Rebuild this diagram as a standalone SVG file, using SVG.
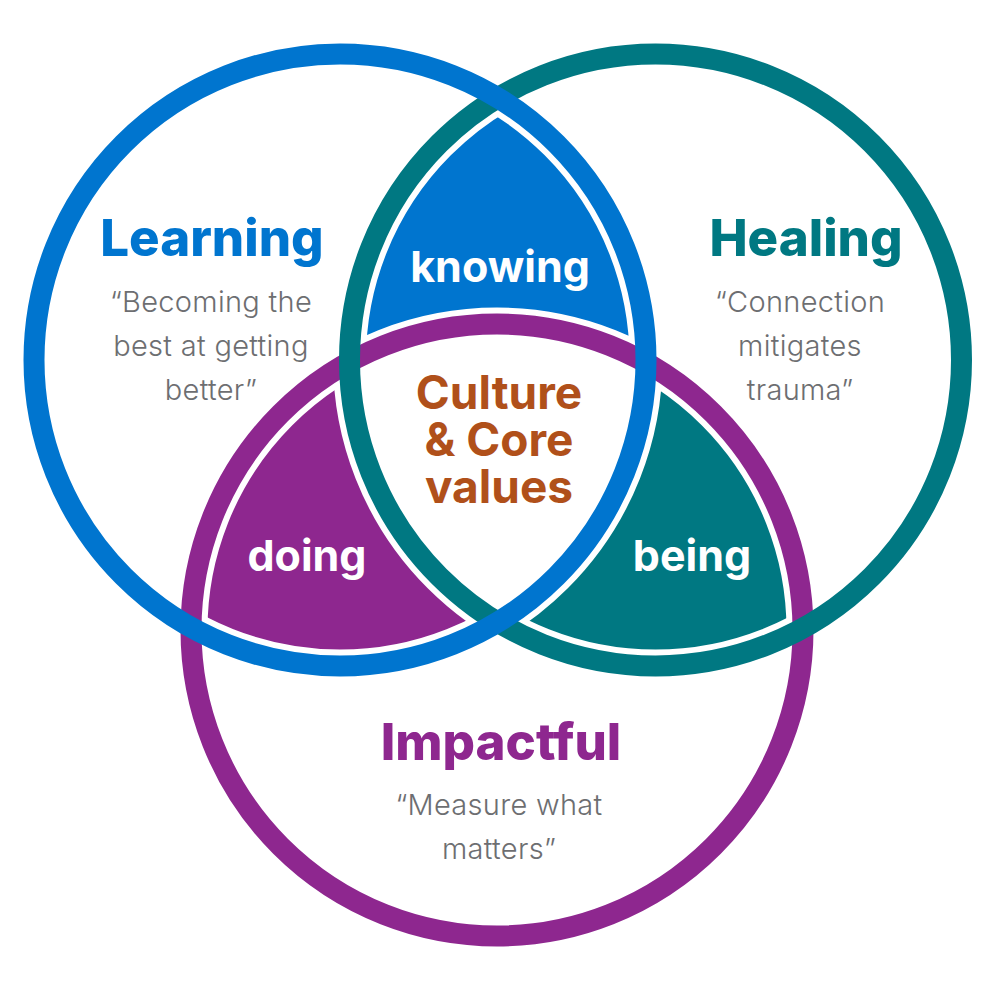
<svg xmlns="http://www.w3.org/2000/svg" width="1000" height="1000" viewBox="0 0 1000 1000">
<style>
.ring{fill:none;stroke-width:21}
.halo{fill:none;stroke:#fff;stroke-width:33}
.title{font-family:Inter,"Noto Sans",sans-serif;font-weight:800;font-size:51px;text-anchor:middle}
.quote{font-family:Inter,"Noto Sans",sans-serif;font-weight:300;font-size:29px;fill:#6d6e71;text-anchor:middle;letter-spacing:0.3px}
.lab{font-family:Inter,"Noto Sans",sans-serif;font-weight:700;font-size:43px;text-anchor:middle}
.core{font-family:Inter,"Noto Sans",sans-serif;font-weight:700;font-size:46px;text-anchor:middle;fill:#b0501a}
</style>
<defs>
<clipPath id="cB"><circle cx="340" cy="360" r="306"/></clipPath>
<clipPath id="cT"><circle cx="655.5" cy="360" r="306"/></clipPath>
<clipPath id="cP"><circle cx="497" cy="630" r="306"/></clipPath>
</defs>
<rect width="1000" height="1000" fill="#fff"/>
<g id="regions">
<g id="knowing-fill" clip-path="url(#cB)"><circle cx="655.5" cy="360" r="306" fill="#0075cf"/></g>
<g id="doing-fill" clip-path="url(#cB)"><circle cx="497" cy="630" r="306" fill="#8e278f"/></g>
<g id="being-fill" clip-path="url(#cT)"><circle cx="497" cy="630" r="306" fill="#007882"/></g>
<g id="core-fill" clip-path="url(#cB)"><g clip-path="url(#cT)"><circle cx="497" cy="630" r="306" fill="#fff"/></g></g>
</g>
<g id="connectors">
<circle class="halo" cx="497" cy="630" r="306"/>
<circle class="halo" cx="655.5" cy="360" r="306"/>
<circle class="halo" cx="340" cy="360" r="306"/>
</g>
<g id="impactful">
<circle class="ring" cx="497" cy="630" r="306" stroke="#8e278f"/>
<text class="title" x="501" y="760" fill="#8e278f">Impactful</text>
<text class="quote" x="499" y="815">“Measure what</text>
<text class="quote" x="499" y="859">matters”</text>
</g>
<g id="healing">
<circle class="ring" cx="655.5" cy="360" r="306" stroke="#007882"/>
<text class="title" x="806" y="256" fill="#007882">Healing</text>
<text class="quote" x="800" y="312">“Connection</text>
<text class="quote" x="800" y="356">mitigates</text>
<text class="quote" x="800" y="400">trauma”</text>
</g>
<g id="learning">
<circle class="ring" cx="340" cy="360" r="306" stroke="#0075cf"/>
<text class="title" x="212" y="256" fill="#0075cf">Learning</text>
<text class="quote" x="211" y="312">“Becoming the</text>
<text class="quote" x="211" y="356">best at getting</text>
<text class="quote" x="211" y="400">better”</text>
</g>
<g id="knowing"><text class="lab" x="500" y="282" fill="#fff">knowing</text></g>
<g id="doing"><text class="lab" x="307" y="571" fill="#fff">doing</text></g>
<g id="being"><text class="lab" x="692" y="571" fill="#fff">being</text></g>
<g id="core">
<text class="core" x="499" y="409">Culture</text>
<text class="core" x="499" y="456">&amp; Core</text>
<text class="core" x="499" y="503">values</text>
</g>
</svg>
